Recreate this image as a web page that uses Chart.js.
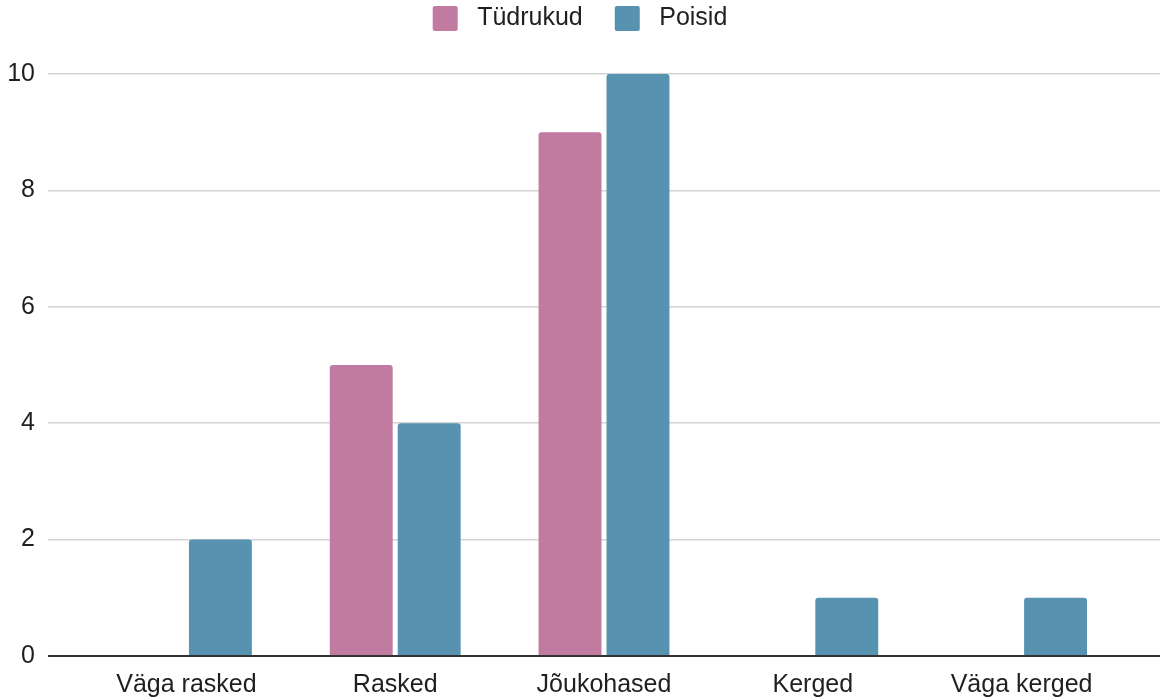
<!DOCTYPE html>
<html>
<head>
<meta charset="utf-8">
<script src="https://cdn.jsdelivr.net/npm/chart.js@4/dist/chart.umd.min.js"></script>
<style>
  html, body { margin: 0; padding: 0; background: #fff; }
  #wrap { width: 1163px; height: 698px; position: relative; }
</style>
</head>
<body>
<div id="wrap"><canvas id="c"></canvas></div>
<script>
// Difficulty ratings by group
const categories = ['Väga rasked', 'Rasked', 'Jõukohased', 'Kerged', 'Väga kerged'];
const girls = [0, 5, 9, 0, 0];
const boys = [2, 4, 10, 1, 1];
const yTicks = [0, 2, 4, 6, 8, 10];

const FONT = "'Liberation Sans', Arial, sans-serif";
const toPoints = arr => arr.map((v, i) => ({ x: i, y: v }));

// Reserve a fixed band for the legend above the plot and lift its row
const legendBand = {
  id: 'legendBand',
  beforeInit(chart) {
    const legend = chart.legend;
    const fit = legend.fit;
    const draw = legend.draw;
    legend.fit = function () {
      fit.call(this);
      this.height = 74;
    };
    legend.draw = function () {
      const ctx = this.ctx;
      ctx.save();
      ctx.translate(0, -26);
      draw.call(this);
      ctx.restore();
    };
  }
};

new Chart(document.getElementById('c'), {
  type: 'bar',
  data: {
    datasets: [
      { label: 'Tüdrukud', data: toPoints(girls), backgroundColor: '#c27ba0', borderRadius: 3, borderSkipped: 'start' },
      { label: 'Poisid', data: toPoints(boys), backgroundColor: '#5793b0', borderRadius: 3, borderSkipped: 'start' }
    ]
  },
  plugins: [legendBand],
  options: {
    responsive: true,
    maintainAspectRatio: false,
    animation: false,
    layout: { padding: { left: 0, right: 3, top: 0, bottom: 0 } },
    datasets: { bar: { categoryPercentage: 0.651, barPercentage: 0.926 } },
    plugins: {
      tooltip: { enabled: false },
      legend: {
        position: 'top',
        labels: {
          font: { family: FONT, size: 25 },
          color: '#1f1f1f',
          boxWidth: 25,
          boxHeight: 25,
          padding: 32,
          useBorderRadius: true,
          borderRadius: 2,
          generateLabels: chart => Chart.defaults.plugins.legend.labels.generateLabels(chart)
            .map(item => Object.assign(item, { text: ' ' + item.text }))
        }
      }
    },
    scales: {
      x: {
        type: 'linear',
        offset: false,
        bounds: 'ticks',
        min: -0.663,
        max: 4.663,
        grid: { display: false, drawTicks: false },
        border: { display: false },
        afterBuildTicks: s => { s.ticks = categories.map((_, i) => ({ value: i })); },
        afterFit: s => { s.height = 42; },
        ticks: {
          padding: 14,
          color: '#1f1f1f',
          font: { family: FONT, size: 25 },
          maxRotation: 0,
          autoSkip: false,
          callback: v => categories[v]
        }
      },
      y: {
        min: 0,
        max: 10,
        afterBuildTicks: s => { s.ticks = yTicks.map(v => ({ value: v })); },
        afterFit: s => { s.width = 48; },
        border: { display: false },
        grid: {
          drawTicks: false,
          color: ctx => ctx.tick && ctx.tick.value === 0 ? '#333' : '#d3d3d3',
          lineWidth: ctx => ctx.tick && ctx.tick.value === 0 ? 2 : 1.5
        },
        ticks: {
          padding: 13,
          color: '#1f1f1f',
          font: { family: FONT, size: 25 }
        }
      }
    }
  }
});
</script>
</body>
</html>
